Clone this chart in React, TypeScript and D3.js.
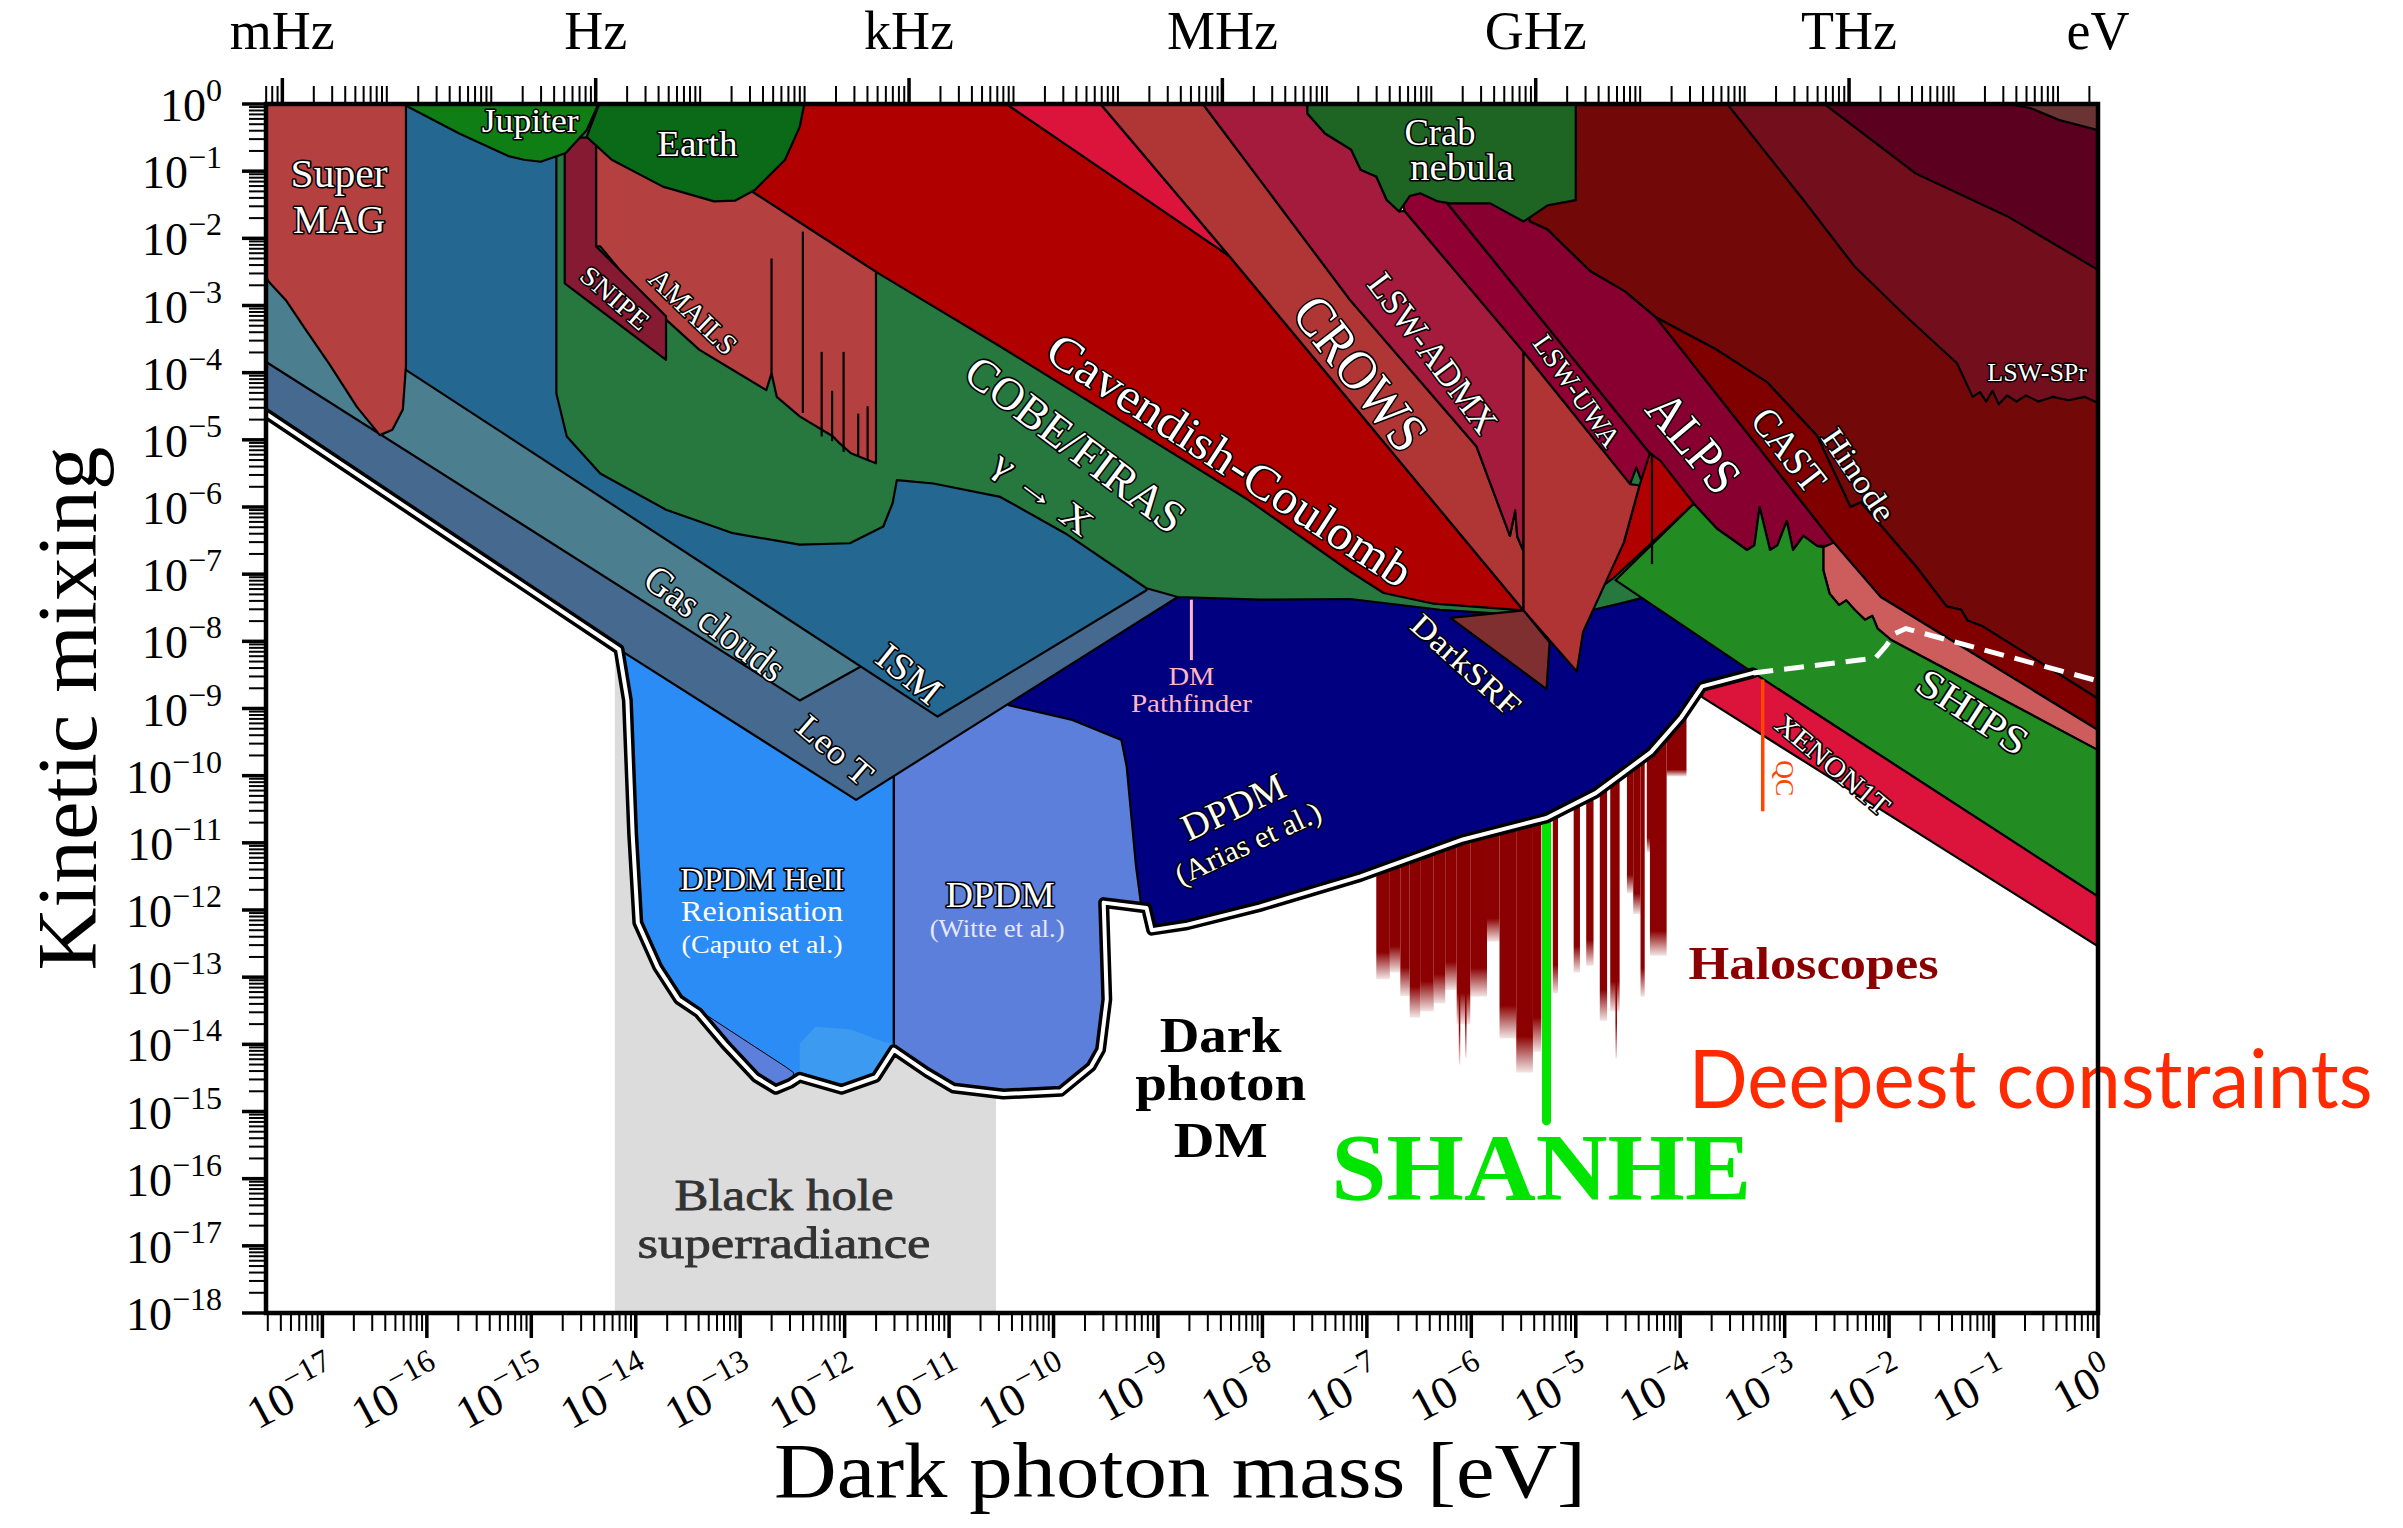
import React from 'react';
import * as d3 from 'd3';

const W = 2403;
const H = 1528;
const PL = 266, PR = 2098, PT = 104, PB = 1313;
const X_MIN = -17.54; // log10(mass / eV) at the left edge
const Y_MIN = -18;    // log10(kinetic mixing) at the bottom edge
const HZ_TO_EV = 4.135667e-15;

const X_TICK_EXP = [-17, -16, -15, -14, -13, -12, -11, -10, -9, -8, -7, -6, -5, -4, -3, -2, -1, 0];
const Y_TICK_EXP = [0, -1, -2, -3, -4, -5, -6, -7, -8, -9, -10, -11, -12, -13, -14, -15, -16, -17, -18];
const FREQ_NAMES = ['mHz', 'Hz', 'kHz', 'MHz', 'GHz', 'THz'];
const FREQ_EXP = [-3, 0, 3, 6, 9, 12];

// all points: [log10 mass (eV), log10 kinetic mixing]
const DM_BOUND = [[-17.6, -4.55], [-17.54, -4.61], [-14.16, -8.12], [-14.08, -8.88], [-14.03, -10.86], [-13.98, -12.19], [-13.79, -12.85], [-13.59, -13.33], [-13.40, -13.53], [-13.15, -13.99], [-12.85, -14.49], [-12.66, -14.67], [-12.52, -14.58], [-12.43, -14.49], [-12.03, -14.67], [-11.70, -14.49], [-11.53, -14.08], [-11.21, -14.42], [-10.96, -14.65], [-10.48, -14.74], [-9.93, -14.70], [-9.64, -14.33], [-9.55, -14.08], [-9.49, -13.33], [-9.52, -11.89], [-9.11, -11.97], [-9.06, -12.30], [-8.72, -12.22], [-8.03, -11.95], [-7.06, -11.50], [-6.08, -10.95], [-5.28, -10.63], [-4.81, -10.26], [-4.28, -9.65], [-3.99, -9.13], [-3.79, -8.67], [-3.30, -8.47]];
const DASHED_BOUND = [[-3.30, -8.47], [-2.13, -8.25], [-2.03, -8.07], [-1.94, -7.88], [-1.84, -7.81], [0, -8.59]];
const BH_RANGE = [-14.20, -10.55, -8.2];

const NAVY = [[-11.53, -7.0], [-4.62, -7.0], [-3.30, -8.47], [-3.30, -18.5], [-11.53, -18.5]];
const WITTE = [[-11.53, -8.26], [-10.55, -8.26], [-10.43, -8.95], [-9.82, -9.17], [-9.35, -9.47], [-9.30, -9.86], [-9.21, -11.35], [-9.16, -11.94], [-9.08, -18.5], [-11.53, -18.5]];
const HEII = [[-14.3, -7.5], [-11.53, -7.5], [-11.53, -18.5], [-14.3, -18.5]];
const HEII_PATCH_A = [[-13.63, -13.25], [-13.25, -13.64], [-12.57, -14.33], [-12.49, -14.42], [-12.49, -18.5], [-13.63, -18.5]];
const HEII_PATCH_B = [[-12.43, -13.99], [-12.28, -13.74], [-11.94, -13.78], [-11.62, -13.97], [-11.53, -13.99], [-11.53, -18.5], [-12.43, -18.5]];
const LEO_T = [[-17.6, -4.55], [-14.16, -8.12], [-11.89, -10.36], [-8.81, -7.34], [-8.81, -5.3], [-17.6, -3.0]];
const GAS_CLOUDS = [[-17.6, -2.41], [-11.84, -8.37], [-12.43, -8.88], [-17.6, -3.78]];
const ISM = [[-17.6, -2.54], [-11.11, -9.12], [-9.11, -7.24], [-9.11, 0.2], [-17.6, 0.2]];

const COBE = [[-14.76, 0.2], [-14.76, -4.31], [-14.66, -4.95], [-14.34, -5.50], [-13.71, -6.04], [-13.07, -6.39], [-12.43, -6.56], [-11.95, -6.54], [-11.63, -6.29], [-11.54, -5.94], [-11.50, -5.60], [-11.15, -5.65], [-10.51, -5.85], [-9.89, -6.39], [-9.11, -7.21], [-8.81, -7.34], [-8.03, -7.38], [-7.16, -7.37], [-6.30, -7.53], [-5.41, -7.62], [-4.83, -7.53], [-4.53, -7.42], [-4.31, -7.33], [-4.24, -6.89], [-4.24, -5.30], [-6.88, -1.87], [-11.28, 0.2]];
const SUPERMAG = [[-17.6, 0.2], [-16.20, 0.2], [-16.20, -3.90], [-16.23, -4.55], [-16.33, -4.85], [-16.45, -4.93], [-16.67, -4.51], [-16.93, -3.88], [-17.16, -3.36], [-17.35, -2.92], [-17.50, -2.67], [-17.6, -2.46]];
const JUPITER = [[-16.20, 0.2], [-16.18, -0.04], [-15.69, -0.44], [-15.21, -0.78], [-15.07, -0.83], [-14.91, -0.86], [-14.67, -0.73], [-14.47, -0.39], [-14.30, 0.2]];
const EARTH = [[-14.30, 0.2], [-14.47, -0.49], [-14.23, -0.83], [-13.74, -1.23], [-13.25, -1.45], [-13.05, -1.44], [-12.86, -1.28], [-12.57, -0.83], [-12.43, -0.34], [-12.36, 0.2]];
const SNIPE = [[-14.68, -0.50], [-14.38, -0.50], [-14.38, -2.12], [-13.71, -3.16], [-13.71, -3.81], [-14.68, -2.67]];
const AMAILS = [[-14.38, -0.50], [-13.05, -0.50], [-12.88, -1.31], [-11.70, -2.50], [-11.70, -5.35], [-11.78, -5.30], [-11.94, -5.20], [-12.05, -5.05], [-12.11, -4.95], [-12.43, -4.65], [-12.65, -4.36], [-12.70, -4.01], [-12.75, -4.26], [-13.07, -3.96], [-13.39, -3.66], [-13.71, -3.21], [-14.02, -2.72], [-14.34, -2.12], [-14.38, -2.12]];
const AMAILS_SPIKES = [[-12.70, -2.30, -4.01], [-12.40, -1.90, -4.60], [-12.22, -3.69, -4.95], [-12.01, -3.69, -5.18], [-12.12, -4.27, -5.02], [-11.87, -4.61, -5.25], [-11.78, -4.50, -5.30]];
const CAVENDISH = [[-13.05, 0.2], [-10.45, 0.2], [-10.45, 0], [-8.32, -2.26], [-5.50, -7.54], [-6.36, -7.44], [-6.84, -7.28], [-7.16, -6.96], [-8.13, -5.90], [-10.51, -3.61], [-11.70, -2.50], [-12.88, -1.31], [-13.05, -0.73]];
const CRIMSON = [[-10.45, 0.2], [-9.55, 0.2], [-9.55, 0], [-8.32, -2.26], [-10.45, 0]];
const CROWS = [[-9.55, 0.2], [-8.57, 0.2], [-8.57, 0], [-7.16, -2.92], [-5.95, -5.10], [-5.63, -6.43], [-5.58, -6.05], [-5.56, -6.44], [-5.50, -6.66], [-5.50, -7.54], [-8.32, -2.26], [-9.55, 0]];
const LSW_ADMX = [[-8.57, 0.2], [-7.57, 0.2], [-7.57, -0.14], [-7.40, -0.44], [-7.15, -0.68], [-7.06, -0.98], [-6.91, -1.08], [-6.81, -1.43], [-6.69, -1.60], [-6.64, -1.59], [-5.50, -3.69], [-5.50, -6.66], [-5.56, -6.44], [-5.58, -6.05], [-5.63, -6.43], [-5.95, -5.10], [-7.16, -2.92], [-8.57, 0]];
const LSW_UWA = [[-6.69, -1.19], [-6.24, -1.19], [-6.24, -1.46], [-4.29, -5.20], [-4.36, -5.66], [-4.42, -5.41], [-4.48, -5.66], [-5.50, -3.69], [-6.64, -1.59]];
const ALPS = [[-6.24, -1.19], [-5.49, -1.30], [-5.44, -1.75], [-5.27, -1.87], [-5.12, -2.10], [-4.86, -2.49], [-4.53, -2.79], [-4.23, -3.18], [-2.53, -6.53], [-2.53, -6.58], [-2.69, -6.58], [-2.82, -6.43], [-2.92, -6.64], [-2.98, -6.21], [-3.07, -6.57], [-3.14, -6.64], [-3.24, -6.00], [-3.29, -6.57], [-3.36, -6.64], [-3.65, -6.32], [-3.87, -5.95], [-4.29, -5.20], [-6.24, -1.46]];
const CAST = [[-4.23, -3.18], [-3.65, -3.66], [-3.17, -4.14], [-2.69, -4.94], [-2.37, -6.00], [-2.27, -5.93], [-1.74, -6.89], [-1.45, -7.48], [-1.31, -7.53], [-1.25, -7.69], [-1.10, -7.78], [0.1, -8.95], [0.1, -9.40], [0, -9.32], [-2.08, -7.34], [-2.53, -6.53]];
const PINK = [[-2.63, -6.60], [-2.53, -6.53], [-2.08, -7.34], [0, -9.32], [0.1, -9.40], [0.1, -9.70], [0, -9.62], [-1.98, -7.98], [-2.11, -7.81], [-2.16, -7.62], [-2.23, -7.68], [-2.33, -7.53], [-2.41, -7.39], [-2.48, -7.46], [-2.57, -7.29], [-2.63, -6.94]];
const SHIPS = [[-4.62, -7.09], [-3.87, -5.95], [-3.65, -6.32], [-3.36, -6.64], [-3.29, -6.57], [-3.24, -6.00], [-3.14, -6.64], [-3.07, -6.57], [-2.98, -6.21], [-2.92, -6.64], [-2.82, -6.43], [-2.69, -6.58], [-2.63, -6.60], [-2.63, -6.94], [-2.57, -7.29], [-2.48, -7.46], [-2.41, -7.39], [-2.33, -7.53], [-2.23, -7.68], [-2.16, -7.62], [-2.11, -7.81], [-1.98, -7.98], [0, -9.62], [0.1, -9.70], [0.1, -11.92], [0, -11.80], [-3.30, -8.47]];
const XENON1T = [[-3.79, -8.67], [-3.30, -8.47], [0, -11.80], [0.1, -11.92], [0.1, -12.66], [0, -12.54], [-3.79, -8.83]];
const RED_LENS = [[-4.39, -5.68], [-4.29, -5.20], [-4.19, -5.31], [-3.87, -5.95], [-4.64, -7.06], [-4.74, -7.17], [-4.54, -6.53]];
const WEDGE = [[-5.50, -3.69], [-4.48, -5.66], [-4.39, -5.68], [-4.54, -6.53], [-4.93, -7.86], [-4.99, -8.45], [-5.50, -7.54]];
const RED_LENS_SPIKE = [-4.27, -5.20, -6.85];
const DARKSRF = [[-6.20, -7.65], [-5.50, -7.54], [-5.25, -8.02], [-5.28, -8.71]];
const HINODE = [[-5.00, 0.2], [-3.55, 0.2], [-3.55, 0], [-2.82, -1.43], [-2.33, -2.42], [-1.84, -3.16], [-1.35, -3.86], [-1.20, -4.36], [-1.13, -4.29], [-1.07, -4.43], [-1.01, -4.27], [-0.95, -4.47], [-0.87, -4.34], [-0.78, -4.43], [-0.69, -4.34], [-0.57, -4.43], [-0.43, -4.36], [-0.28, -4.41], [-0.13, -4.36], [0, -4.45], [0.1, -4.45], [0.1, -8.95], [-1.10, -7.78], [-1.25, -7.69], [-1.31, -7.53], [-1.45, -7.48], [-1.74, -6.89], [-2.27, -5.93], [-2.37, -6.00], [-2.69, -4.94], [-3.17, -4.14], [-3.65, -3.66], [-4.23, -3.18], [-4.53, -2.79], [-4.86, -2.49], [-5.12, -2.10], [-5.27, -1.87], [-5.44, -1.75], [-5.54, -1.68], [-5.54, -1.2], [-5.00, -1.0]];
const LSW_SPR = [[-3.55, 0.2], [0.1, 0.2], [0.1, -4.8], [-1.2, -4.8], [-3.55, 0]];
const WINE = [[-2.62, 0.2], [0.1, 0.2], [0.1, -2.55], [0, -2.47], [-0.87, -1.67], [-1.75, -1.03], [-2.62, 0]];
const BROWN = [[-0.87, 0.2], [0.1, 0.2], [0.1, -0.41], [0, -0.39], [-0.37, -0.24], [-0.65, -0.06], [-0.87, 0]];
const CRAB = [[-7.57, 0.2], [-7.57, -0.14], [-7.40, -0.44], [-7.15, -0.68], [-7.06, -0.98], [-6.91, -1.08], [-6.81, -1.43], [-6.69, -1.60], [-6.59, -1.37], [-6.49, -1.33], [-6.32, -1.45], [-6.20, -1.48], [-5.82, -1.48], [-5.50, -1.75], [-5.27, -1.51], [-5.00, -1.43], [-5.00, 0.2]];

// haloscope exclusions: [log m low, log m high, log eps reached]
const HALO_BARS = [[-6.91, -6.78, -13.03], [-6.78, -6.68, -12.93], [-6.68, -6.59, -13.28], [-6.59, -6.49, -13.60], [-6.49, -6.36, -13.51], [-6.36, -6.25, -13.39], [-6.25, -6.14, -13.19], [-6.14, -6.01, -13.70], [-6.12, -6.11, -14.30], [-6.06, -6.05, -14.20], [-6.01, -5.85, -13.29], [-5.85, -5.73, -12.47], [-5.73, -5.57, -13.91], [-5.57, -5.41, -14.42], [-5.41, -5.33, -14.11], [-5.22, -5.17, -13.24], [-5.02, -4.96, -12.93], [-4.90, -4.83, -12.83], [-4.77, -4.70, -13.65], [-4.67, -4.58, -13.51], [-4.62, -4.61, -14.21], [-4.51, -4.45, -11.75], [-4.45, -4.38, -12.06], [-4.38, -4.34, -13.29], [-4.32, -4.26, -11.14], [-4.29, -4.13, -12.68], [-4.13, -3.94, -10.01]];
const SHANHE_LINE = [-5.28, -10.63, -15.14];
const QC_LINE = [-3.21, -8.57, -10.53];
const PATHFINDER_LINE = [-8.68, -7.38, -8.28];

const C: Record<string, string> = {
  bh: '#dcdcdc', navy: '#000080', witte: '#5d7fdc', heii: '#2b8cf5', heiiB: '#3c9bf0', leoT: '#46698f', gas: '#4b7e8e', ism: '#246892',
  cobe: '#27783f', supermag: '#b4413f', jupiter: '#0f7f15', earth: '#0a6a17', snipe: '#861a33', amails: '#b4413f', cav: '#b00000',
  crimson: '#dc143c', crows: '#b03535', lswAdmx: '#a51b3d', lswUwa: '#900033', alps: '#870030', cast: '#800000', pink: '#cd5c5c',
  ships: '#228b22', xenon: '#dc143c', hinode: '#720808', lswSpr: '#730f1c', wine: '#5c0020', brown: '#6b3434', crab: '#1e6423',
  darksrf: '#7f2f2f', wedge: '#b03434', halo: '#8b0000'
};

const DM_LAYERS: [number[][], string, number][] = [
  [NAVY, C.navy, 2.2], [WITTE, C.witte, 2.2], [HEII, C.heii, 2.2], [HEII_PATCH_A, C.witte, 1], [HEII_PATCH_B, C.heiiB, 0],
  [LEO_T, C.leoT, 2.2], [GAS_CLOUDS, C.gas, 2.2], [ISM, C.ism, 2.2]
];
const MAIN_LAYERS: [number[][], string][] = [
  [COBE, C.cobe], [SUPERMAG, C.supermag], [CAVENDISH, C.cav], [AMAILS, C.amails], [SNIPE, C.snipe], [JUPITER, C.jupiter], [EARTH, C.earth],
  [LSW_SPR, C.lswSpr], [HINODE, C.hinode], [WINE, C.wine], [BROWN, C.brown], [CRIMSON, C.crimson], [CROWS, C.crows], [LSW_ADMX, C.lswAdmx],
  [LSW_UWA, C.lswUwa], [ALPS, C.alps], [CAST, C.cast], [PINK, C.pink], [RED_LENS, C.cav], [WEDGE, C.wedge], [DARKSRF, C.darksrf],
  [SHIPS, C.ships], [XENON1T, C.xenon], [CRAB, C.crab]
];

// [text, log m, log eps, angle, font size, length, anchor mode]
const OUTLINED_LABELS: [string, number, number, number, number, number, string][] = [
  ['Super', -16.84, -1.23, 0, 40, 97, 'b'],
  ['MAG', -16.84, -1.92, 0, 40, 92, 'b'],
  ['Jupiter', -15.01, -0.41, 0, 34, 97, 'b'],
  ['Earth', -13.41, -0.78, 0, 36, 80, 'b'],
  ['Crab', -6.30, -0.61, 0, 37, 71, 'b'],
  ['nebula', -6.09, -1.13, 0, 37, 104, 'b'],
  ['SNIPE', -14.20, -2.89, 41, 27, 82, 'c'],
  ['AMAILS', -13.45, -3.09, 44, 29, 110, 'c'],
  ['COBE/FIRAS', -9.79, -5.07, 37, 46, 262, 'c'],
  ['\u03b3 \u2192 X', -10.10, -5.80, 37, 36, 115, 'c'],
  ['Cavendish-Coulomb', -8.31, -5.30, 33, 48, 425, 'c'],
  ['CROWS', -7.06, -4.01, 52, 56, 180, 'c'],
  ['LSW-ADMX', -6.37, -3.71, 53, 36, 190, 'c'],
  ['LSW-UWA', -4.99, -4.27, 55, 28, 130, 'c'],
  ['ALPS', -3.87, -5.04, 50, 52, 115, 'c'],
  ['CAST', -2.96, -5.15, 52, 40, 95, 'c'],
  ['Hinode', -2.29, -5.52, 56, 32, 105, 'c'],
  ['Gas clouds', -13.24, -7.73, 37, 40, 165, 'c'],
  ['ISM', -11.38, -8.48, 39, 38, 72, 'c'],
  ['Leo T', -12.09, -9.62, 41, 34, 88, 'c'],
  ['DarkSRF', -6.05, -8.35, 42, 32, 135, 'c'],
  ['SHIPS', -1.20, -9.05, 33, 40, 125, 'c'],
  ['XENON1T', -2.54, -9.84, 40, 28, 140, 'c'],
  ['DPDM HeII', -12.79, -11.70, 0, 31, 164, 'b'],
  ['DPDM', -10.51, -11.95, 0, 36, 109, 'b'],
  ['DPDM', -8.28, -10.46, -25, 38, 110, 'c'],
  ['(Arias et al.)', -8.14, -11.00, -25, 30, 158, 'c']
];
const PLAIN_LABELS: [string, number, number, number, number, number, string][] = [
  ['Reionisation', -12.79, -12.17, 0, 30, 162, '#ffffff'],
  ['(Caputo et al.)', -12.79, -12.64, 0, 26, 161, '#ffffff'],
  ['(Witte et al.)', -10.54, -12.40, 0, 25, 135, '#e6e8ff'],
  ['DM', -8.68, -8.65, 0, 25, 46, '#ffb6c1'],
  ['Pathfinder', -8.68, -9.05, 0, 25, 121, '#ffb6c1'],
  ['QC', -3.00, -10.04, 90, 26, 36, '#ff4500']
];

const SERIF = "'Liberation Serif', 'DejaVu Serif', serif";

export default function App() {
  const x = d3.scaleLog().domain([Math.pow(10, X_MIN), 1]).range([PL, PR]);
  const y = d3.scaleLog().domain([Math.pow(10, Y_MIN), 1]).range([PB, PT]);
  const X = (e: number) => x(Math.pow(10, e));
  const Y = (e: number) => y(Math.pow(10, e));
  const line = d3.line<number[]>().x((d) => X(d[0])).y((d) => Y(d[1]));
  const poly = (pts: number[][]) => (line(pts) || '') + 'Z';

  const dmClip = poly([...DM_BOUND, [0.2, -8.47], [0.2, 0.3], [-17.6, 0.3]]);

  const bottomTicks: { e: number; major: boolean }[] = [];
  for (let n = -18; n <= 0; n++) {
    for (let k = 1; k <= 9; k++) {
      const e = n + Math.log10(k);
      if (e >= X_MIN - 1e-9 && e <= 1e-9) bottomTicks.push({ e, major: k === 1 });
      if (n === 0) break;
    }
  }
  const leftTicks: { e: number; major: boolean }[] = [];
  for (let n = -18; n <= 0; n++) {
    for (let k = 1; k <= 9; k++) {
      const e = n + Math.log10(k);
      if (e <= 1e-9) leftTicks.push({ e, major: k === 1 });
      if (n === 0) break;
    }
  }
  const topTicks: { e: number; major: boolean }[] = [];
  const hzOff = Math.log10(HZ_TO_EV);
  for (let n = -4; n <= 14; n++) {
    for (let k = 1; k <= 9; k++) {
      const e = n + Math.log10(k) + hzOff;
      if (e >= X_MIN && e <= 0) topTicks.push({ e, major: k === 1 && n % 3 === 0 });
    }
  }

  const sup = (e: number) => (e === 0 ? '0' : '\u2212' + String(-e));

  return (
    <svg width={W} height={H} viewBox={`0 0 ${W} ${H}`} style={{ position: 'absolute', left: 0, top: 0, background: '#fff' }} xmlns="http://www.w3.org/2000/svg">
      <defs>
        <clipPath id="plotClip"><rect x={PL} y={PT} width={PR - PL} height={PB - PT} /></clipPath>
        <clipPath id="dmClip"><path d={dmClip} /></clipPath>
        <linearGradient id="haloFade" x1="0" y1="0" x2="0" y2="1">
          <stop offset="0" stopColor={C.halo} />
          <stop offset="0.9" stopColor={C.halo} />
          <stop offset="1" stopColor={C.halo} stopOpacity="0.1" />
        </linearGradient>
      </defs>
      <rect x={0} y={0} width={W} height={H} fill="#fff" />
      <g clipPath="url(#plotClip)">
        <rect x={X(BH_RANGE[0])} y={Y(BH_RANGE[2])} width={X(BH_RANGE[1]) - X(BH_RANGE[0])} height={PB - Y(BH_RANGE[2])} fill={C.bh} />
        {HALO_BARS.map((b, i) => (
          <rect key={'h' + i} x={X(b[0])} y={Y(-9)} width={Math.max(1.5, X(b[1]) - X(b[0]))} height={Y(b[2]) - Y(-9)} fill="url(#haloFade)" />
        ))}
        <line x1={X(SHANHE_LINE[0])} x2={X(SHANHE_LINE[0])} y1={Y(SHANHE_LINE[1])} y2={Y(SHANHE_LINE[2])} stroke="#00e400" strokeWidth={9} strokeLinecap="round" />
        <g clipPath="url(#dmClip)">
          {DM_LAYERS.map(([pts, col, sw], i) => (
            <path key={'dm' + i} d={poly(pts)} fill={col} stroke={sw > 0 ? '#000' : 'none'} strokeWidth={sw} strokeLinejoin="round" />
          ))}
        </g>
        {MAIN_LAYERS.map(([pts, col], i) => (
          <path key={'m' + i} d={poly(pts)} fill={col} stroke="#000" strokeWidth={2.2} strokeLinejoin="round" />
        ))}
        {AMAILS_SPIKES.map((s, i) => (
          <line key={'sp' + i} x1={X(s[0])} x2={X(s[0])} y1={Y(s[1])} y2={Y(s[2])} stroke="#000" strokeWidth={2.2} />
        ))}
        <line x1={X(RED_LENS_SPIKE[0])} x2={X(RED_LENS_SPIKE[0])} y1={Y(RED_LENS_SPIKE[1])} y2={Y(RED_LENS_SPIKE[2])} stroke="#000" strokeWidth={2.2} />
        <line x1={X(QC_LINE[0])} x2={X(QC_LINE[0])} y1={Y(QC_LINE[1])} y2={Y(QC_LINE[2])} stroke="#ff4500" strokeWidth={3.5} />
        <line x1={X(PATHFINDER_LINE[0])} x2={X(PATHFINDER_LINE[0])} y1={Y(PATHFINDER_LINE[1])} y2={Y(PATHFINDER_LINE[2])} stroke="#ffb6c1" strokeWidth={3} />
        <path d={line(DM_BOUND) || ''} fill="none" stroke="#000" strokeWidth={11} strokeLinejoin="round" strokeLinecap="round" />
        <path d={line(DM_BOUND) || ''} fill="none" stroke="#fff" strokeWidth={4} strokeLinejoin="round" strokeLinecap="round" />
        <path d={line(DASHED_BOUND) || ''} fill="none" stroke="#fff" strokeWidth={5} strokeDasharray="20 11" />

        {OUTLINED_LABELS.map(([t, lx, ly, ang, fs, len, mode], i) => (
          <text key={'ol' + i} transform={`translate(${X(lx)},${Y(ly)}) rotate(${ang})`} textAnchor="middle"
            dominantBaseline={mode === 'c' ? 'central' : 'alphabetic'} fontFamily={SERIF} fontSize={fs}
            textLength={len} lengthAdjust="spacingAndGlyphs" fill="#fff" stroke="#000" strokeWidth={3.2}
            strokeLinejoin="round" style={{ paintOrder: 'stroke' }}>{t}</text>
        ))}
        {PLAIN_LABELS.map(([t, lx, ly, ang, fs, len, col], i) => (
          <text key={'pl' + i} transform={`translate(${X(lx)},${Y(ly)}) rotate(${ang})`} textAnchor="middle"
            dominantBaseline={ang !== 0 ? 'central' : 'alphabetic'} fontFamily={SERIF} fontSize={fs}
            textLength={len} lengthAdjust="spacingAndGlyphs" fill={col}>{t}</text>
        ))}
        <text x={X(-1.06)} y={Y(-4.13)} fontFamily={SERIF} fontSize={26} fill="#fff" stroke="#000" strokeWidth={3}
          strokeLinejoin="round" style={{ paintOrder: 'stroke' }}>LSW-SPr</text>

        <text x={X(-12.58)} y={Y(-16.47)} textAnchor="middle" fontFamily={SERIF} fontSize={44} textLength={219}
          lengthAdjust="spacingAndGlyphs" fill="#333" stroke="#333" strokeWidth={0.8}>Black hole</text>
        <text x={X(-12.58)} y={Y(-17.18)} textAnchor="middle" fontFamily={SERIF} fontSize={44} textLength={293}
          lengthAdjust="spacingAndGlyphs" fill="#333" stroke="#333" strokeWidth={0.8}>superradiance</text>
        <text x={X(-8.40)} y={Y(-14.11)} textAnchor="middle" fontFamily={SERIF} fontSize={50} fontWeight="bold" textLength={122} lengthAdjust="spacingAndGlyphs" fill="#000">Dark</text>
        <text x={X(-8.40)} y={Y(-14.83)} textAnchor="middle" fontFamily={SERIF} fontSize={50} fontWeight="bold" textLength={171} lengthAdjust="spacingAndGlyphs" fill="#000">photon</text>
        <text x={X(-8.40)} y={Y(-15.67)} textAnchor="middle" fontFamily={SERIF} fontSize={50} fontWeight="bold" textLength={94} lengthAdjust="spacingAndGlyphs" fill="#000">DM</text>
        <text x={X(-5.33)} y={Y(-16.32)} textAnchor="middle" fontFamily={SERIF} fontSize={96} fontWeight="bold" textLength={420} lengthAdjust="spacingAndGlyphs" fill="#00e400">SHANHE</text>
        <text x={X(-3.92)} y={Y(-13.02)} fontFamily={SERIF} fontSize={46} fontWeight="bold" textLength={250} lengthAdjust="spacingAndGlyphs" fill="#8b0000">Haloscopes</text>
      </g>

      <text x={X(-3.92)} y={Y(-14.95)} fontFamily="Lato, 'Open Sans', sans-serif" fontSize={82} textLength={684}
        lengthAdjust="spacingAndGlyphs" fill="#ff2a00">Deepest constraints</text>

      {/* frame */}
      <rect x={PL} y={PT} width={PR - PL} height={PB - PT} fill="none" stroke="#000" strokeWidth={4.5} />
      {bottomTicks.map((t, i) => (
        <line key={'bt' + i} x1={X(t.e)} x2={X(t.e)} y1={PB} y2={PB + (t.major ? 25 : 18)} stroke="#000" strokeWidth={t.major ? 3.5 : 2} />
      ))}
      {leftTicks.map((t, i) => (
        <line key={'lt' + i} x1={PL} x2={PL - (t.major ? 24 : 17)} y1={Y(t.e)} y2={Y(t.e)} stroke="#000" strokeWidth={t.major ? 3.5 : 2} />
      ))}
      {topTicks.map((t, i) => (
        <line key={'tt' + i} x1={X(t.e)} x2={X(t.e)} y1={PT} y2={PT - (t.major ? 26 : 18)} stroke="#000" strokeWidth={t.major ? 3.5 : 2} />
      ))}
      {Y_TICK_EXP.map((e) => (
        <text key={'yl' + e} x={222} y={Y(e) + 17} textAnchor="end" fontFamily={SERIF} fontSize={46} fill="#000">
          10<tspan dy={-20} fontSize={32}>{sup(e)}</tspan>
        </text>
      ))}
      {X_TICK_EXP.map((e) => (
        <g key={'xl' + e} transform={`translate(${X(e) + 20},${PB + 72}) rotate(-28)`}>
          <text textAnchor="end" fontFamily={SERIF} fontSize={46} fill="#000">
            10<tspan dy={-20} fontSize={32}>{sup(e)}</tspan>
          </text>
        </g>
      ))}
      {FREQ_NAMES.map((n, i) => (
        <text key={'fq' + n} x={X(FREQ_EXP[i] + hzOff)} y={49} textAnchor="middle" fontFamily={SERIF} fontSize={54} fill="#000">{n}</text>
      ))}
      <text x={X(0)} y={49} textAnchor="middle" fontFamily={SERIF} fontSize={54} fill="#000">eV</text>
      <text transform={`translate(96,${(PT + PB) / 2}) rotate(-90)`} textAnchor="middle" fontFamily={SERIF} fontSize={84}
        textLength={524} lengthAdjust="spacingAndGlyphs" fill="#000">Kinetic mixing</text>
      <text x={1180} y={1497} textAnchor="middle" fontFamily={SERIF} fontSize={78} textLength={812}
        lengthAdjust="spacingAndGlyphs" fill="#000">Dark photon mass [eV]</text>
    </svg>
  );
}
